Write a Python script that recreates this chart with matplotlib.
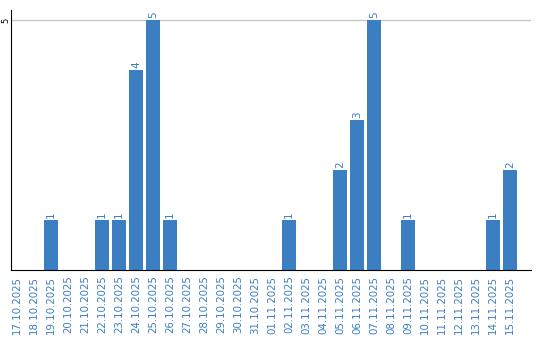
import matplotlib
matplotlib.use("Agg")
import matplotlib.pyplot as plt

dates = ['17.10.2025', '18.10.2025', '19.10.2025', '20.10.2025', '21.10.2025',
         '22.10.2025', '23.10.2025', '24.10.2025', '25.10.2025', '26.10.2025',
         '27.10.2025', '28.10.2025', '29.10.2025', '30.10.2025', '31.10.2025',
         '01.11.2025', '02.11.2025', '03.11.2025', '04.11.2025', '05.11.2025',
         '06.11.2025', '07.11.2025', '08.11.2025', '09.11.2025', '10.11.2025',
         '11.11.2025', '12.11.2025', '13.11.2025', '14.11.2025', '15.11.2025']
counts = [0, 0, 1, 0, 0, 1, 1, 4, 5, 1,
          0, 0, 0, 0, 0, 0, 1, 0, 0, 2,
          3, 5, 0, 1, 0, 0, 0, 0, 1, 2]

blue = '#3b7ec2'

fig = plt.figure(figsize=(5.4, 3.4), dpi=100)
ax = fig.add_axes([11 / 540, 1 - 270 / 340, 520 / 540, 260 / 340])

x = list(range(len(dates)))
ax.bar(x, counts, width=0.82, color=blue, zorder=2)

# value labels above the bars
for xi, v in zip(x, counts):
    if v > 0:
        ax.text(xi, v + 0.04, str(v), rotation=90, ha='center', va='bottom',
                color=blue, fontsize=7.5)

ax.set_xlim(-0.35, 30.24)
ax.set_ylim(0, 5.2)
ax.set_yticks([5])
ax.set_yticklabels(['5'], rotation=90, va='center', fontsize=6)
ax.axhline(5, color='#c8c8c8', lw=1, zorder=1)

ax.set_xticks(x)
ax.set_xticklabels(dates, rotation=90, fontsize=7.4, color=blue)
ax.tick_params(axis='x', length=0, pad=4)
ax.tick_params(axis='y', length=0, pad=0.5)

for s in ['top', 'right']:
    ax.spines[s].set_visible(False)
ax.spines['left'].set_color('black')
ax.spines['bottom'].set_color('black')

fig.savefig('out.png', dpi=100)
